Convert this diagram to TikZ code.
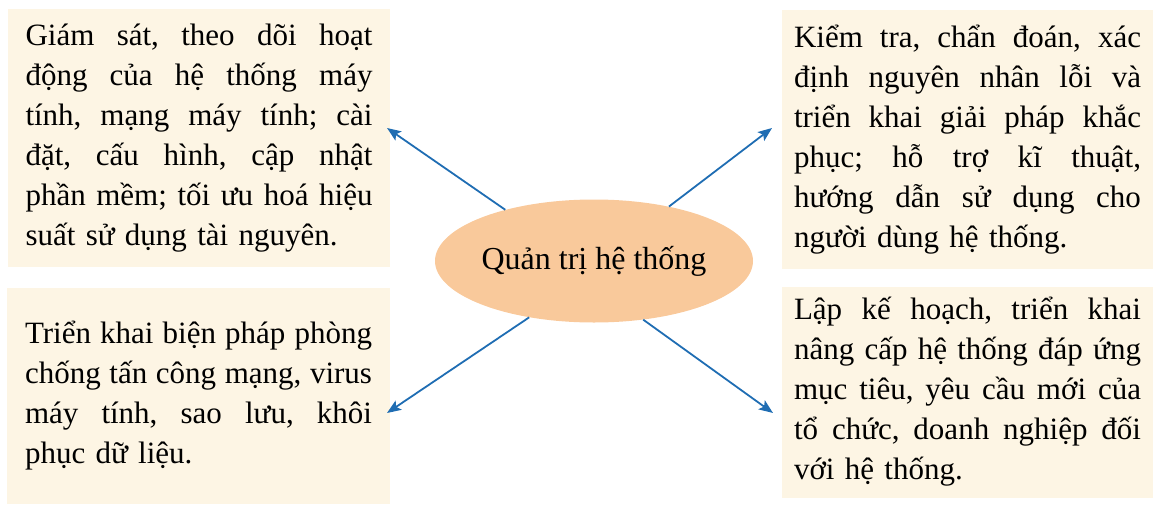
\documentclass[tikz,border=0pt]{standalone}
\usepackage{fontspec}
\setmainfont{Liberation Serif}
\usetikzlibrary{positioning,arrows.meta,shapes.geometric}
\definecolor{cream100}{HTML}{FDF5E4}
\definecolor{peach300}{HTML}{F9C99B}
\definecolor{blue600} {HTML}{1F6DB3}
\setlength{\parindent}{0pt}
\frenchspacing
\newlength{\boxtw}
\setlength{\boxtw}{347pt}
% one justified line of a box
\newcommand{\jl}[1]{\leavevmode\hbox to\boxtw{%
  \spaceskip=.25em plus 1fil minus .08em\relax #1}}
\tikzset{
  task/.style ={fill=cream100, inner sep=0pt, text width=\boxtw,
                align=left, font=\fontsize{31}{40}\selectfont},
  hub/.style  ={ellipse, fill=peach300, inner sep=0pt,
                minimum width=304pt, minimum height=123pt,
                font=\fontsize{32}{40}\selectfont},
  ar/.style   ={-{Stealth[length=14pt,width=11pt,inset=3pt]}, draw=blue600,
                line width=1.8pt}
}
\begin{document}
\begin{tikzpicture}[x=1pt,y=-1pt]
\useasboundingbox (0,0) rectangle (1155,506);
\node[task, minimum width=382pt, minimum height=258pt] (monitor) at (199,138)
  {\jl{Giám sát, theo dõi hoạt}\\
   \jl{động của hệ thống máy}\\
   \jl{tính, mạng máy tính; cài}\\
   \jl{đặt, cấu hình, cập nhật}\\
   \jl{phần mềm; tối ưu hoá hiệu}\\
   suất sử dụng tài nguyên.};
\node[task, minimum width=383pt, minimum height=216pt] (defend) at (198.5,396)
  {\jl{Triển khai biện pháp phòng}\\
   \jl{chống tấn công mạng, virus}\\
   \jl{máy tính, sao lưu, khôi}\\
   phục dữ liệu.};
\node[task, minimum width=371pt, minimum height=259pt] (support) at (967.5,139.5)
  {\jl{Kiểm tra, chẩn đoán, xác}\\
   \jl{định nguyên nhân lỗi và}\\
   \jl{triển khai giải pháp khắc}\\
   \jl{phục; hỗ trợ kĩ thuật,}\\
   \jl{hướng dẫn sử dụng cho}\\
   người dùng hệ thống.};
\node[task, minimum width=371pt, minimum height=211pt] (upgrade) at (967.5,392)
  {\jl{Lập kế hoạch, triển khai}\\
   \jl{nâng cấp hệ thống đáp ứng}\\
   \jl{mục tiêu, yêu cầu mới của}\\
   \jl{tổ chức, doanh nghiệp đối}\\
   với hệ thống.};
\node[hub] (admin) at (594,261) {Quản trị hệ thống};

% arrow ends beside the boxes
\coordinate (monitor-tip) at (387,128);
\coordinate (support-tip) at (772,128);
\coordinate (defend-tip)  at (387,413);
\coordinate (upgrade-tip) at (773,413);

\draw[ar] (admin.150) -- (monitor-tip);
\draw[ar] (admin.36)  -- (support-tip);
\draw[ar] (admin.221) -- (defend-tip);
\draw[ar] (admin.310) -- (upgrade-tip);
\end{tikzpicture}
\end{document}
